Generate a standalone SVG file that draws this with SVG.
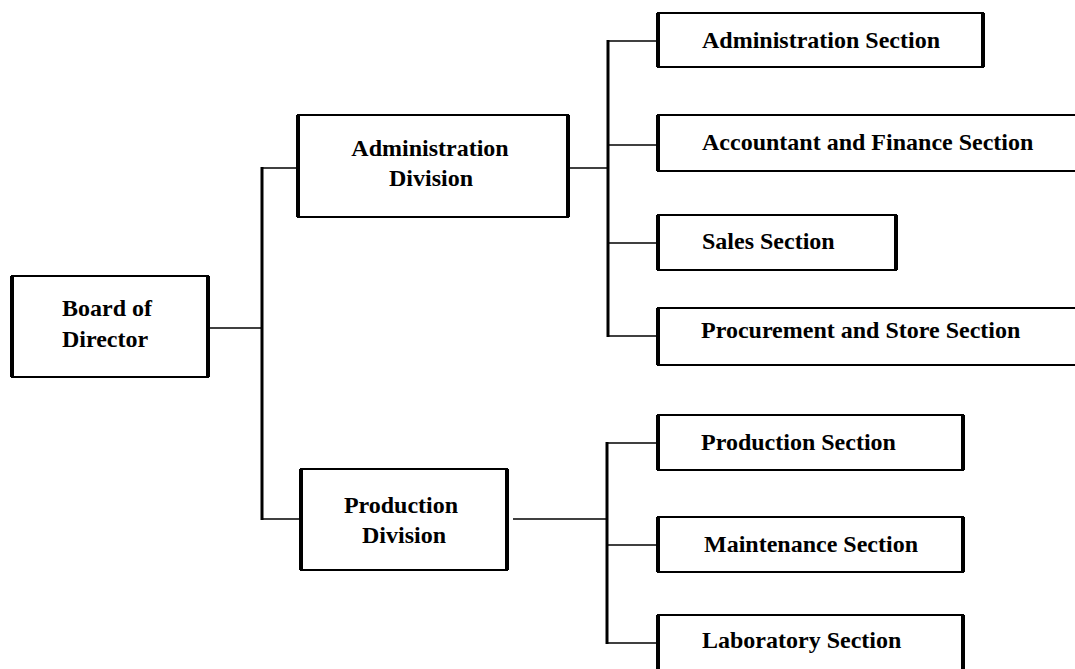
<svg xmlns="http://www.w3.org/2000/svg" width="1075" height="669" viewBox="0 0 1075 669">
<style>
  .box { fill: #ffffff; stroke: #000; stroke-width: 2; }
  .side { stroke: #000; stroke-width: 4; fill: none; }
  .lbl { font-family: "Liberation Serif", "Times New Roman", serif; font-weight: bold; font-size: 24px; fill: #000; }
  .h { stroke: #000; stroke-width: 1.6; fill: none; }
  .v { stroke: #000; stroke-width: 3; fill: none; }
</style>
<rect x="0" y="0" width="1075" height="669" fill="#ffffff"/>
<g id="connectors">
  <line class="h" x1="208" y1="328" x2="262" y2="328"/>
  <line class="v" x1="262" y1="167" x2="262" y2="520"/>
  <line class="h" x1="262" y1="168" x2="298" y2="168"/>
  <line class="h" x1="262" y1="519" x2="301" y2="519"/>
  <line class="h" x1="568" y1="168" x2="608" y2="168"/>
  <line class="v" x1="608" y1="40" x2="608" y2="337"/>
  <line class="h" x1="608" y1="41" x2="658" y2="41"/>
  <line class="h" x1="608" y1="145" x2="658" y2="145"/>
  <line class="h" x1="608" y1="243" x2="658" y2="243"/>
  <line class="h" x1="608" y1="336" x2="658" y2="336"/>
  <line class="h" x1="513" y1="519" x2="607" y2="519"/>
  <line class="v" x1="607" y1="442" x2="607" y2="644"/>
  <line class="h" x1="607" y1="443" x2="658" y2="443"/>
  <line class="h" x1="607" y1="545" x2="658" y2="545"/>
  <line class="h" x1="607" y1="643" x2="658" y2="643"/>
</g>
<g id="board">
  <rect class="box" x="12" y="276" width="196" height="101"/>
  <path class="side" d="M12 276V377M208 276V377"/>
  <text class="lbl" x="62" y="316">Board of</text>
  <text class="lbl" x="62" y="347">Director</text>
</g>
<g id="admin-division">
  <rect class="box" x="298" y="115" width="270" height="102"/>
  <path class="side" d="M298 115V217M568 115V217"/>
  <text class="lbl" x="430" y="156" text-anchor="middle">Administration</text>
  <text class="lbl" x="431" y="186" text-anchor="middle">Division</text>
</g>
<g id="production-division">
  <rect class="box" x="301" y="469" width="206" height="101"/>
  <path class="side" d="M301 469V570M507 469V570"/>
  <text class="lbl" x="401" y="513" text-anchor="middle">Production</text>
  <text class="lbl" x="404" y="543" text-anchor="middle">Division</text>
</g>
<g id="administration-section">
  <rect class="box" x="658" y="13" width="325" height="54"/>
  <path class="side" d="M658 13V67M983 13V67"/>
  <text class="lbl" x="702" y="48">Administration Section</text>
</g>
<g id="accountant-section">
  <rect class="box" x="658" y="115" width="430" height="56"/>
  <path class="side" d="M658 115V171"/>
  <text class="lbl" x="702" y="150">Accountant and Finance Section</text>
</g>
<g id="sales-section">
  <rect class="box" x="658" y="215" width="238" height="55"/>
  <path class="side" d="M658 215V270M896 215V270"/>
  <text class="lbl" x="702" y="249">Sales Section</text>
</g>
<g id="procurement-section">
  <rect class="box" x="658" y="308" width="430" height="57"/>
  <path class="side" d="M658 308V365"/>
  <text class="lbl" x="701" y="338">Procurement and Store Section</text>
</g>
<g id="production-section">
  <rect class="box" x="658" y="415" width="305" height="55"/>
  <path class="side" d="M658 415V470M963 415V470"/>
  <text class="lbl" x="701" y="450">Production Section</text>
</g>
<g id="maintenance-section">
  <rect class="box" x="658" y="517" width="305" height="55"/>
  <path class="side" d="M658 517V572M963 517V572"/>
  <text class="lbl" x="704" y="552">Maintenance Section</text>
</g>
<g id="laboratory-section">
  <rect class="box" x="658" y="615" width="305" height="62"/>
  <path class="side" d="M658 615V677M963 615V677"/>
  <text class="lbl" x="702" y="648">Laboratory Section</text>
</g>
</svg>
